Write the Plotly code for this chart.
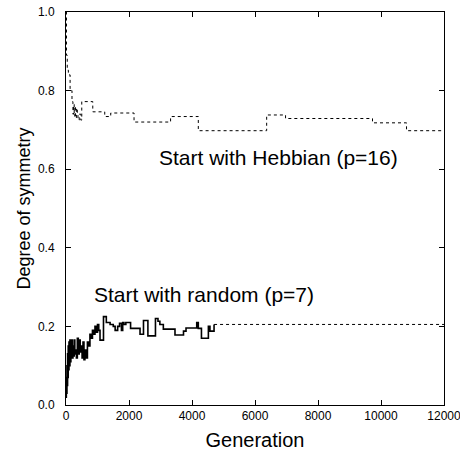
import plotly.graph_objects as go

# Hebbian start (p=16)
hebb_gen = [0, 15, 40, 75, 130, 190, 220, 240, 260, 280, 300, 330, 360, 380, 420, 470,
            500, 850, 1230, 1420, 2160, 3320, 4200, 6370, 6970, 9730, 10810, 12000]
hebb_val = [1.0, 0.89, 0.852, 0.84, 0.80, 0.772, 0.74, 0.765, 0.735, 0.76, 0.73, 0.755,
            0.74, 0.725, 0.74, 0.725, 0.772, 0.746, 0.734, 0.743, 0.72, 0.734, 0.698,
            0.738, 0.729, 0.718, 0.698, 0.698]

# Random start (p=7)
rand_gen = [0, 10, 20, 30, 40, 50, 60, 70, 80, 95, 110, 125, 140, 155, 170, 185, 200,
            220, 240, 260, 280, 300, 330, 360, 390, 420, 450, 480, 510, 540, 570, 600,
            640, 680, 720, 760, 800, 840, 880, 920, 960, 1000, 1040, 1080, 1190, 1280,
            1400, 1500, 1560, 1640, 1700, 1760, 1800, 1840, 1900, 2050, 2350, 2460, 2600,
            2840, 2920, 2980, 3090, 3460, 3730, 3810, 4150, 4200, 4300, 4520, 4570, 4700]
rand_val = [0.02, 0.07, 0.03, 0.10, 0.05, 0.13, 0.07, 0.15, 0.09, 0.16, 0.10, 0.165,
            0.11, 0.16, 0.12, 0.165, 0.12, 0.15, 0.125, 0.165, 0.13, 0.14, 0.12, 0.17,
            0.13, 0.165, 0.135, 0.15, 0.12, 0.16, 0.115, 0.14, 0.12, 0.16, 0.15, 0.18,
            0.17, 0.19, 0.18, 0.20, 0.185, 0.205, 0.19, 0.165, 0.225, 0.21, 0.205, 0.20,
            0.19, 0.20, 0.208, 0.19, 0.21, 0.205, 0.21, 0.195, 0.18, 0.215, 0.176, 0.22,
            0.213, 0.205, 0.193, 0.178, 0.188, 0.196, 0.21, 0.195, 0.17, 0.20, 0.188, 0.205]

tail_gen = [4700, 12000]
tail_val = [0.205, 0.205]

x_ticks = [0, 2000, 4000, 6000, 8000, 10000, 12000]
y_ticks = [0.0, 0.2, 0.4, 0.6, 0.8, 1.0]

fig = go.Figure()
fig.add_trace(go.Scatter(x=hebb_gen, y=hebb_val, mode="lines", line_shape="hv",
                         line=dict(color="black", width=1, dash="dot")))
fig.add_trace(go.Scatter(x=rand_gen, y=rand_val, mode="lines", line_shape="hv",
                         line=dict(color="black", width=1.6)))
fig.add_trace(go.Scatter(x=tail_gen, y=tail_val, mode="lines",
                         line=dict(color="black", width=1, dash="dot")))

font = "Liberation Sans, Arial, sans-serif"
fig.add_annotation(x=2890, y=0.630, xref="x", yref="y", text="Start with Hebbian (p=16)",
                   showarrow=False, xanchor="left", yanchor="middle",
                   font=dict(size=21, color="black", family=font))
fig.add_annotation(x=816, y=0.281, xref="x", yref="y", text="Start with random (p=7)",
                   showarrow=False, xanchor="left", yanchor="middle",
                   font=dict(size=21, color="black", family=font))

axis_common = dict(showline=True, linecolor="black", linewidth=1, mirror="ticks",
                   ticks="inside", ticklen=5, tickcolor="black", showgrid=False,
                   zeroline=False, ticklabeloverflow="allow", automargin=False,
                   tickfont=dict(size=12, color="black", family=font))

fig.update_xaxes(range=[0, 12000], tickvals=x_ticks, ticktext=[str(v) for v in x_ticks],
                 title=dict(text="Generation", font=dict(size=20, color="black", family=font),
                            standoff=10),
                 **axis_common)
fig.update_yaxes(range=[0, 1], tickvals=y_ticks, ticktext=[f"{v:.1f}" for v in y_ticks],
                 ticklabelstandoff=8,
                 title=dict(text="Degree of symmetry", font=dict(size=18, color="black", family=font),
                            standoff=2),
                 **axis_common)

fig.update_layout(width=460, height=457, margin=dict(l=66, r=16, t=12, b=52),
                  plot_bgcolor="white", paper_bgcolor="white", showlegend=False,
                  font=dict(family=font, color="black"))

fig.write_html("out.html")
